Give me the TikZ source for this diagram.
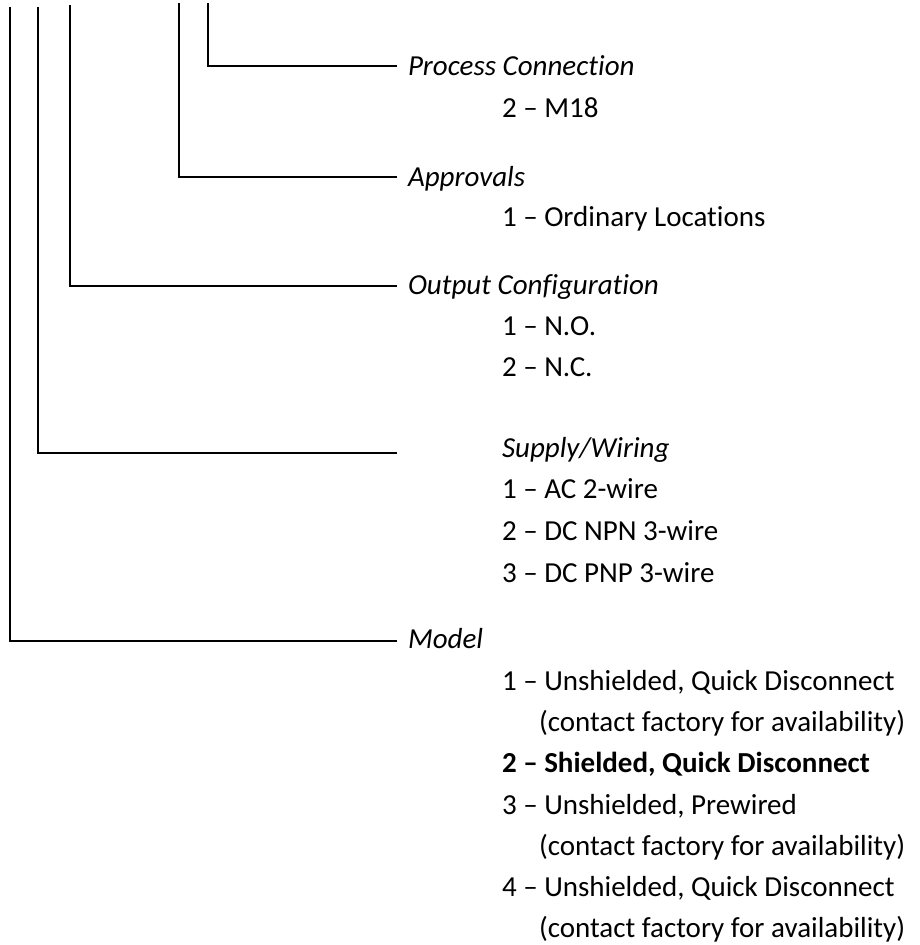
\documentclass[tikz,border=0pt]{standalone}
\usepackage{fontspec}
\setmainfont{Carlito}[Ligatures={TeX,NoCommon}]
\usetikzlibrary{positioning}

\begin{document}
\begin{tikzpicture}[x=1pt,y=-1pt,line width=2pt]
  \tikzstyle{head}=[anchor=base west,inner sep=0pt,font=\fontsize{29}{35}\selectfont\itshape]
  \tikzstyle{opt}=[anchor=base west,inner sep=0pt,font=\fontsize{29}{35}\selectfont]
  \useasboundingbox (0,0) rectangle (919,945);

  \coordinate (tA) at (9.5,7);
  \coordinate (tB) at (37.7,7);
  \coordinate (tC) at (70,5);
  \coordinate (tD) at (179,3);
  \coordinate (tE) at (208,3);

  \coordinate (eA) at (397,641);
  \coordinate (eB) at (397,453);
  \coordinate (eC) at (397,286);
  \coordinate (eD) at (397,177);
  \coordinate (eE) at (397,66);

  \node[head] (proc) at (407,75) {Process Connection};
  \node[opt] (proc2) at (501,117) {2 – M18};

  \node[head] (appr) at (407,186) {Approvals};
  \node[opt] (appr1) at (501,226) {1 – Ordinary Locations};

  \node[head] (out) at (407,294) {Output Configuration};
  \node[opt] (out1) at (501,335) {1 – N.O.};
  \node[opt] (out2) at (501,376) {2 – N.C.};

  \node[head] (sup) at (501,457) {Supply/Wiring};
  \node[opt] (sup1) at (501,498) {1 – AC 2-wire};
  \node[opt] (sup2) at (501,540) {2 – DC NPN 3-wire};
  \node[opt] (sup3) at (501,582) {3 – DC PNP 3-wire};

  \node[head] (mod) at (407,648) {Model};
  \node[opt] (mod1) at (501,690) {1 – Unshielded, Quick Disconnect};
  \node[opt] (mod1b) at (538,731) {(contact factory for availability)};
  \node[opt] (mod2) at (501,772) {\bfseries 2 – Shielded, Quick Disconnect};
  \node[opt] (mod3) at (501,814) {3 – Unshielded, Prewired};
  \node[opt] (mod3b) at (538,855) {(contact factory for availability)};
  \node[opt] (mod4) at (501,896) {4 – Unshielded, Quick Disconnect};
  \node[opt] (mod4b) at (538,937) {(contact factory for availability)};

  \draw (tA) |- (eA);
  \draw (tB) |- (eB);
  \draw (tC) |- (eC);
  \draw (tD) |- (eD);
  \draw (tE) |- (eE);
\end{tikzpicture}
\end{document}
